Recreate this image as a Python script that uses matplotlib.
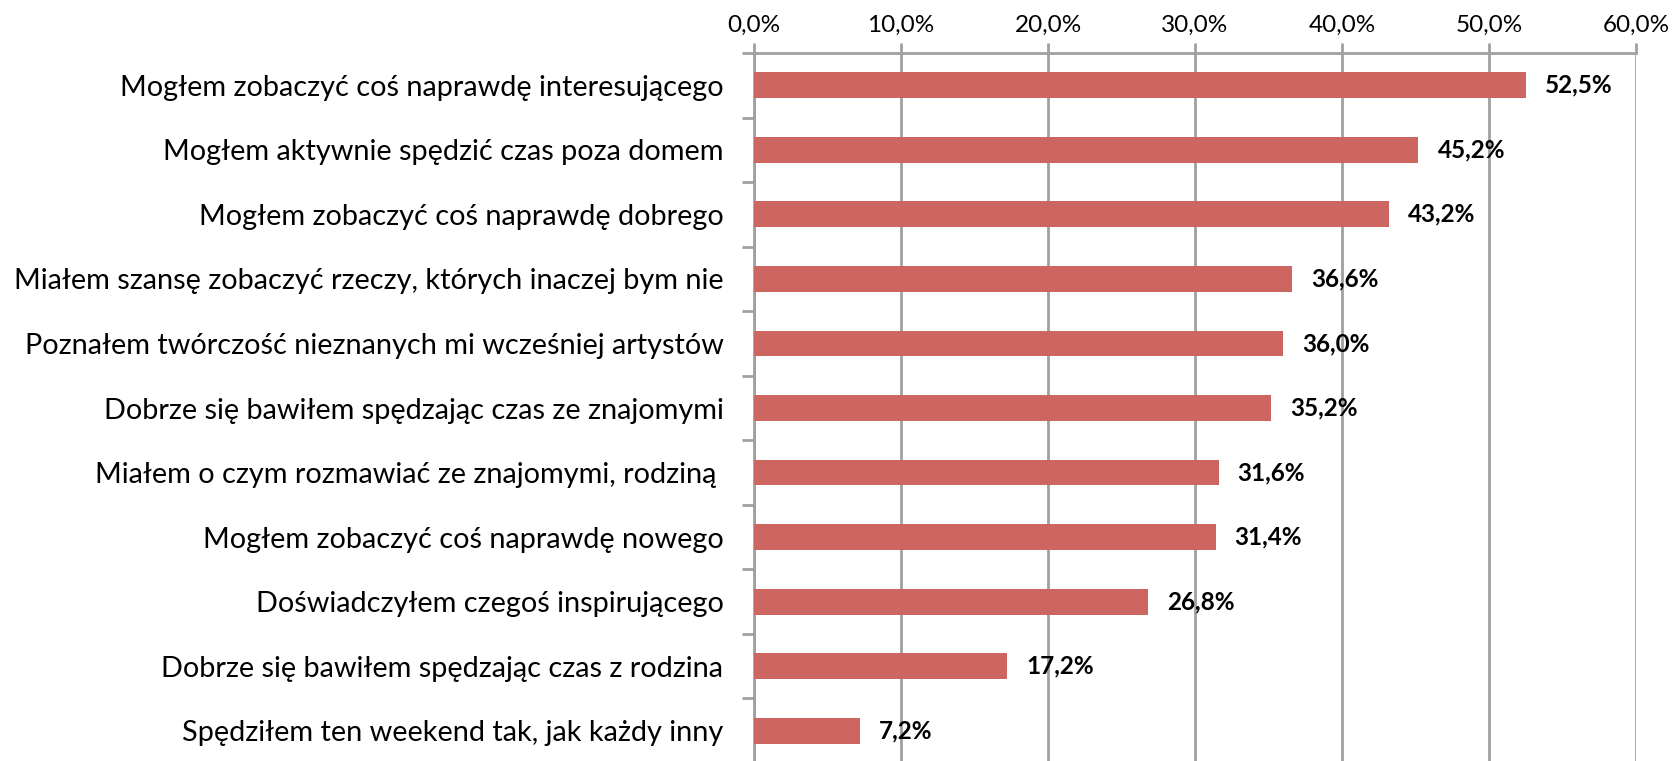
import matplotlib
matplotlib.use('Agg')
import matplotlib.pyplot as plt

# -----------------------------
# Data
# -----------------------------
categories = [
    "Mogłem zobaczyć coś naprawdę interesującego",
    "Mogłem aktywnie spędzić czas poza domem",
    "Mogłem zobaczyć coś naprawdę dobrego",
    "Miałem szansę zobaczyć rzeczy, których inaczej bym nie",
    "Poznałem twórczość nieznanych mi wcześniej artystów",
    "Dobrze się bawiłem spędzając czas ze znajomymi",
    "Miałem o czym rozmawiać ze znajomymi, rodziną ",
    "Mogłem zobaczyć coś naprawdę nowego",
    "Doświadczyłem czegoś inspirującego",
    "Dobrze się bawiłem spędzając czas z rodzina",
    "Spędziłem ten weekend tak, jak każdy inny",
]
values = [52.5, 45.2, 43.2, 36.6, 36.0, 35.2, 31.6, 31.4, 26.8, 17.2, 7.2]
x_ticks = [0, 10, 20, 30, 40, 50, 60]

BAR_COLOR = "#CD6660"
GRID_COLOR = "#A0A0A0"

plt.rcParams['font.family'] = ['Lato', 'DejaVu Sans']

W, H = 1672, 761
fig = plt.figure(figsize=(W / 100, H / 100), dpi=100)
ax = fig.add_axes([754 / W, -2 / H, (1636 - 754) / W, (763 - 53) / H])

pos = list(range(len(categories)))
ax.barh(pos, values, height=0.4, color=BAR_COLOR, zorder=3)

# value labels
for y, v in zip(pos, values):
    ax.text(v + 1.3, y, f"{v:.1f}%".replace(".", ","), va="center", ha="left",
            fontsize=17.5, fontweight="bold", color="black", zorder=4)

ax.set_xlim(0, 60)
ax.set_ylim(len(categories) - 0.5, -0.5)

ax.xaxis.tick_top()
ax.set_xticks(x_ticks)
ax.set_xticklabels([f"{t:.1f}%".replace(".", ",") for t in x_ticks], fontsize=17.5)
ax.tick_params(axis="x", length=7, width=2, color=GRID_COLOR, pad=5)

# boundary ticks on the left spine, category names as minor ticks
ax.set_yticks([p + 0.5 for p in pos[:-1]] + [-0.5])
ax.set_yticklabels([])
ax.set_yticks(pos, minor=True)
ax.set_yticklabels(categories, minor=True, fontsize=20.8)
ax.tick_params(axis="y", which="major", length=9, width=2, color=GRID_COLOR)
ax.tick_params(axis="y", which="minor", length=0, pad=22)

ax.grid(axis="x", color=GRID_COLOR, linewidth=2, zorder=1)
for side in ["right", "bottom"]:
    ax.spines[side].set_visible(False)
for side in ["top", "left"]:
    ax.spines[side].set_color(GRID_COLOR)
    ax.spines[side].set_linewidth(2)

fig.savefig("out.png", dpi=100)
plt.close(fig)
